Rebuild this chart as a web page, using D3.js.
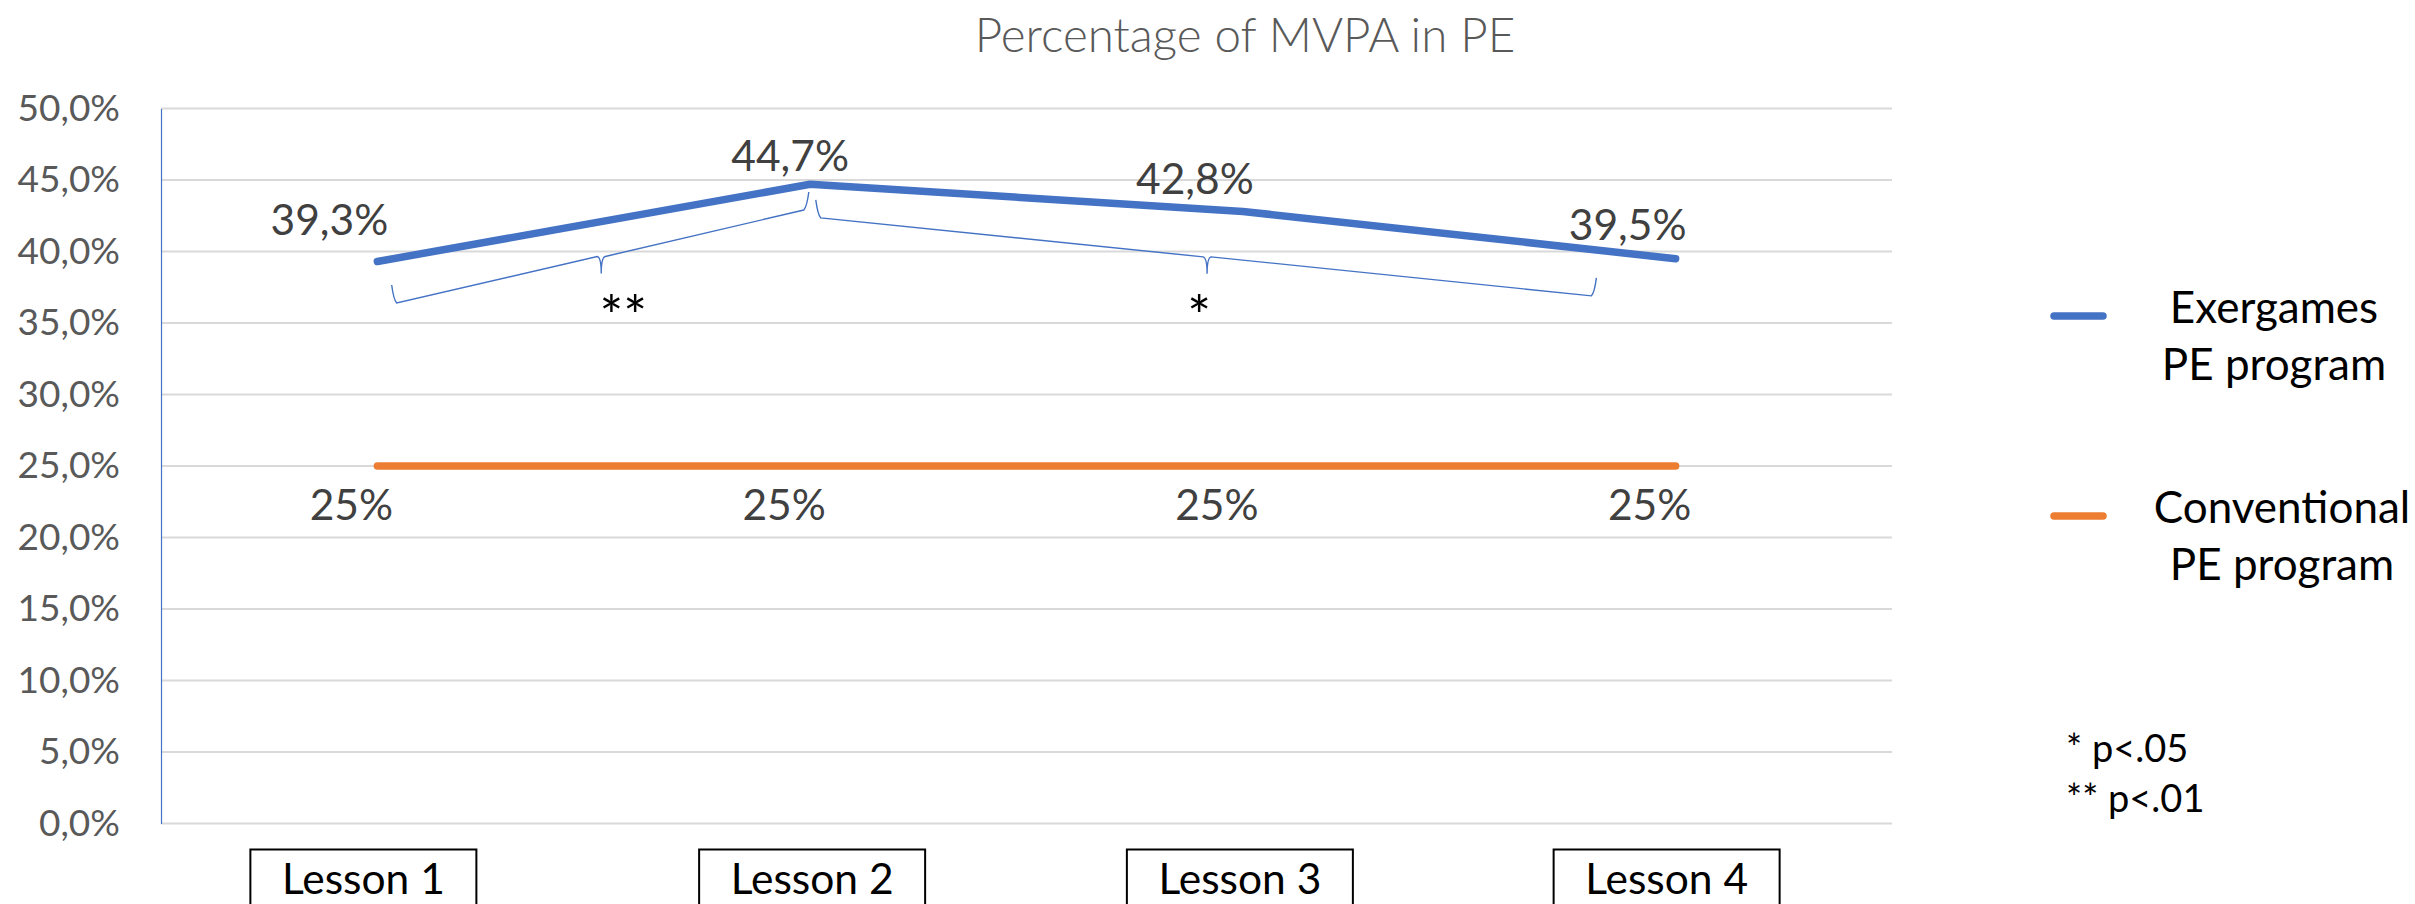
<!DOCTYPE html>
<html>
<head>
<meta charset="utf-8">
<script src="https://cdn.jsdelivr.net/npm/d3@7"></script>
<style>
  html, body { margin: 0; padding: 0; background: #fff; }
  svg { display: block; }
</style>
</head>
<body>
<svg id="chart" width="2415" height="904"></svg>
<script>
const lessons = ['Lesson 1', 'Lesson 2', 'Lesson 3', 'Lesson 4'];
const exergames = [0.393, 0.447, 0.428, 0.395];
const conventional = [0.25, 0.25, 0.25, 0.25];
const yTicks = [0, 0.05, 0.10, 0.15, 0.20, 0.25, 0.30, 0.35, 0.40, 0.45, 0.50];
const seriesNames = [['Exergames', 'PE program'], ['Conventional', 'PE program']];
// significance brackets: from/to are category positions, low* the value at the brace corners
const brackets = [
  { from: 0.04, to: 0.99, lowFrom: 0.364, lowTo: 0.429, mark: '**' },
  { from: 1.02, to: 2.81, lowFrom: 0.4235, lowTo: 0.369, mark: '*' },
];
const notes = ['* p<.05', '** p<.01'];

const BLUE = '#4472C4';
const ORANGE = '#ED7D31';
const FONT = 'Lato, "Open Sans", sans-serif';

// label nudges (Excel labels were dragged by hand)
const blueLabelNudge = [[-48, -27], [-20, -13], [-48, -17], [-48, -19]];
const orangeLabelNudge = [-26, 54];
const boxNudge = [-14, 2, -3, -9];

const svg = d3.select('#chart');
const plotLeft = 161, plotRight = 1892, plotTop = 108.5, plotBottom = 823.5;

const x = d3.scaleBand().domain(lessons).range([plotLeft, plotRight]);
const cx = (i) => x(lessons[0]) + x.bandwidth() * (i + 0.5);
const y = d3.scaleLinear().domain([0, 0.5]).range([plotBottom, plotTop]);

const locale = d3.formatLocale({ decimal: ',', thousands: '.', grouping: [3], currency: ['', '€'] });
const fmtAxis = locale.format('.1%');
const fmtLabel = locale.format('.1%');
const fmtFlat = locale.format('.0%');

// title
svg.append('text')
  .attr('x', 1245)
  .attr('y', 52)
  .attr('text-anchor', 'middle')
  .attr('fill', '#595959')
  .attr('font-family', FONT)
  .attr('font-weight', 300)
  .attr('font-size', '47.5px')
  .text('Percentage of MVPA in PE');

// grid
const grid = svg.append('g').attr('class', 'grid');
grid.selectAll('line')
  .data(yTicks)
  .join('line')
  .attr('x1', plotLeft)
  .attr('x2', plotRight)
  .attr('y1', (d) => y(d))
  .attr('y2', (d) => y(d))
  .attr('stroke', '#d9d9d9')
  .attr('stroke-width', 2);

// y axis
const yAxis = svg.append('g')
  .attr('transform', `translate(${plotLeft},0)`)
  .call(d3.axisLeft(y).tickValues(yTicks).tickFormat(fmtAxis).tickSize(0).tickPadding(41));
yAxis.select('.domain')
  .attr('stroke', BLUE)
  .attr('stroke-width', 1.2);
yAxis.selectAll('text')
  .attr('fill', '#595959')
  .attr('font-family', FONT)
  .attr('font-size', '37px');

// lines
const line = d3.line()
  .x((d, i) => cx(i))
  .y((d) => y(d));

svg.append('path')
  .datum(conventional)
  .attr('d', line)
  .attr('fill', 'none')
  .attr('stroke', ORANGE)
  .attr('stroke-width', 7.5)
  .attr('stroke-linecap', 'round')
  .attr('stroke-linejoin', 'round');

svg.append('path')
  .datum(exergames)
  .attr('d', line)
  .attr('fill', 'none')
  .attr('stroke', BLUE)
  .attr('stroke-width', 7.5)
  .attr('stroke-linecap', 'round')
  .attr('stroke-linejoin', 'round');

// data labels
const labels = svg.append('g')
  .attr('font-family', FONT)
  .attr('font-size', '42.5px')
  .attr('fill', '#404040')
  .attr('text-anchor', 'middle');

labels.selectAll('text.ex')
  .data(exergames)
  .join('text')
  .attr('class', 'ex')
  .attr('x', (d, i) => cx(i) + blueLabelNudge[i][0])
  .attr('y', (d, i) => y(d) + blueLabelNudge[i][1])
  .text((d) => fmtLabel(d));

labels.selectAll('text.conv')
  .data(conventional)
  .join('text')
  .attr('class', 'conv')
  .attr('x', (d, i) => cx(i) + orangeLabelNudge[0])
  .attr('y', (d) => y(d) + orangeLabelNudge[1])
  .text((d) => fmtFlat(d));

// significance braces
const braceGroup = svg.append('g');
brackets.forEach((b) => {
  const x0 = cx(b.from), y0 = y(b.lowFrom);
  const x1 = cx(b.to), y1 = y(b.lowTo);
  const arm = 18;
  const mx = (x0 + x1) / 2, my = (y0 + y1) / 2;
  const notch = 17;
  const path = d3.path();
  path.moveTo(x0 - 3, y0 - arm);
  path.quadraticCurveTo(x0 - 1, y0 - 3, x0 + 2, y0);
  path.lineTo(mx - 3, my);
  path.quadraticCurveTo(mx + 1, my + 1, mx + 1, my + notch);
  path.quadraticCurveTo(mx + 1, my + 1, mx + 5, my);
  path.lineTo(x1 - 2, y1);
  path.quadraticCurveTo(x1 + 1, y1 - 3, x1 + 3, y1 - arm);
  braceGroup.append('path')
    .attr('d', path.toString())
    .attr('fill', 'none')
    .attr('stroke', BLUE)
    .attr('stroke-width', 1.4);
  braceGroup.append('text')
    .attr('x', mx + (b.mark.length > 1 ? 23 : -7))
    .attr('y', my + notch + 62)
    .attr('text-anchor', 'middle')
    .attr('font-family', FONT)
    .attr('font-size', '56px')
    .attr('fill', '#000')
    .text(b.mark);
});

// category boxes
const cats = svg.append('g');
lessons.forEach((name, i) => {
  const bx = cx(i) + boxNudge[i];
  cats.append('rect')
    .attr('x', bx - 113)
    .attr('y', 849.5)
    .attr('width', 226)
    .attr('height', 70)
    .attr('fill', '#fff')
    .attr('stroke', '#000')
    .attr('stroke-width', 2);
  cats.append('text')
    .attr('x', bx)
    .attr('y', 894)
    .attr('text-anchor', 'middle')
    .attr('font-family', FONT)
    .attr('font-size', '42.5px')
    .attr('fill', '#000')
    .text(name);
});

// legend
const legend = svg.append('g');
const legendColors = [BLUE, ORANGE];
const legendY = [316, 516];
const legendTextX = [2274, 2282];
seriesNames.forEach((lines, i) => {
  legend.append('line')
    .attr('x1', 2054)
    .attr('x2', 2103)
    .attr('y1', legendY[i])
    .attr('y2', legendY[i])
    .attr('stroke', legendColors[i])
    .attr('stroke-width', 7.5)
    .attr('stroke-linecap', 'round');
  const t = legend.append('text')
    .attr('text-anchor', 'middle')
    .attr('font-family', FONT)
    .attr('font-size', '44px')
    .attr('fill', '#000');
  lines.forEach((s, j) => {
    t.append('tspan')
      .attr('x', legendTextX[i])
      .attr('y', legendY[i] + 7 + j * 56.5)
      .text(s);
  });
});

// notes
svg.append('g')
  .selectAll('text')
  .data(notes)
  .join('text')
  .attr('x', 2066)
  .attr('y', (d, i) => 762 + i * 50)
  .attr('font-family', FONT)
  .attr('font-size', '38px')
  .attr('fill', '#000')
  .text((d) => d);
</script>
</body>
</html>
